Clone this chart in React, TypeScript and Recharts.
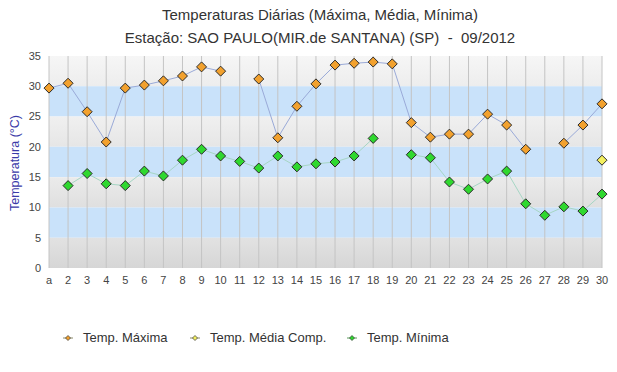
import React from "react";
import {
  ComposedChart,
  Line,
  XAxis,
  YAxis,
  ReferenceArea,
  ReferenceLine,
} from "recharts";

const days = [
  "a", "2", "3", "4", "5", "6", "7", "8", "9", "10",
  "11", "12", "13", "14", "15", "16", "17", "18", "19", "20",
  "21", "22", "23", "24", "25", "26", "27", "28", "29", "30",
];

const tempMax = [
  29.7, 30.5, 25.8, 20.8, 29.7, 30.2, 30.9, 31.7, 33.2, 32.5,
  null, 31.2, 21.5, 26.7, 30.4, 33.5, 33.8, 34.0, 33.7, 24.0,
  21.6, 22.1, 22.1, 25.4, 23.6, 19.6, null, 20.6, 23.6, 27.1,
];

const tempMedia = [
  null, null, null, null, null, null, null, null, null, null,
  null, null, null, null, null, null, null, null, null, null,
  null, null, null, null, null, null, null, null, null, 17.8,
];

const tempMin = [
  null, 13.6, 15.6, 13.9, 13.6, 16.0, 15.2, 17.8, 19.6, 18.5,
  17.6, 16.5, 18.5, 16.7, 17.2, 17.5, 18.5, 21.4, null, 18.7,
  18.2, 14.2, 13.0, 14.7, 16.0, 10.6, 8.7, 10.1, 9.4, 12.2,
];

const yTicks = [0, 5, 10, 15, 20, 25, 30, 35];

// faixas de fundo (cinza / azul alternados)
const bands = [
  { y1: 30, y2: 35, fill: "url(#g1)" },
  { y1: 25, y2: 30, fill: "#c9e2fa" },
  { y1: 20, y2: 25, fill: "url(#g2)" },
  { y1: 15, y2: 20, fill: "#c9e2fa" },
  { y1: 10, y2: 15, fill: "url(#g3)" },
  { y1: 5, y2: 10, fill: "#c9e2fa" },
  { y1: 0, y2: 5, fill: "url(#g4)" },
];

const data = days.map((d, i) => ({
  label: d,
  max: tempMax[i],
  media: tempMedia[i],
  min: tempMin[i],
}));

const FONT = "'Liberation Sans', Arial, sans-serif";

function diamond(fill: string, r: number) {
  return (props: any) => {
    const { cx, cy, value, index } = props;
    if (value == null || cx == null || cy == null) return <g key={index} />;
    return (
      <polygon
        key={index}
        points={`${cx},${cy - r} ${cx + r},${cy} ${cx},${cy + r} ${cx - r},${cy}`}
        fill={fill}
        stroke="#2a2a2a"
        strokeWidth={1}
      />
    );
  };
}

const legendItems = [
  { name: "Temp. Máxima", fill: "#f2a12e", line: "#8a8a6a", left: 62 },
  { name: "Temp. Média Comp.", fill: "#f4f060", line: "#8a8a6a", left: 189 },
  { name: "Temp. Mínima", fill: "#2fd82f", line: "#5a9a5a", left: 346 },
];

export default function App() {
  return (
    <div
      style={{
        position: "absolute",
        left: 0,
        top: 0,
        width: 617,
        height: 372,
        background: "#fff",
        fontFamily: FONT,
      }}
    >
      <div
        style={{
          position: "absolute",
          top: 6,
          left: 0,
          width: 640,
          textAlign: "center",
          fontSize: 15,
          color: "#333",
        }}
      >
        Temperaturas Diárias (Máxima, Média, Mínima)
      </div>
      <div
        style={{
          position: "absolute",
          top: 29,
          left: 0,
          width: 640,
          textAlign: "center",
          fontSize: 15,
          color: "#333",
          whiteSpace: "pre",
        }}
      >
        {"Estação: SAO PAULO(MIR.de SANTANA) (SP)  -  09/2012"}
      </div>
      <div
        style={{
          position: "absolute",
          left: 15,
          top: 163,
          transform: "translate(-50%, -50%) rotate(-90deg)",
          fontSize: 12.5,
          color: "#3a3aa8",
          whiteSpace: "nowrap",
        }}
      >
        Temperatura (°C)
      </div>

      <ComposedChart
        width={617}
        height={372}
        data={data}
        margin={{ top: 56, right: 15, bottom: 74, left: 0 }}
        style={{ position: "absolute", left: 0, top: 0 }}
      >
        <defs>
          <linearGradient id="g1" x1="0" y1="0" x2="0" y2="1">
            <stop offset="0%" stopColor="#f6f6f6" />
            <stop offset="100%" stopColor="#ededed" />
          </linearGradient>
          <linearGradient id="g2" x1="0" y1="0" x2="0" y2="1">
            <stop offset="0%" stopColor="#f0f0f0" />
            <stop offset="100%" stopColor="#e6e6e6" />
          </linearGradient>
          <linearGradient id="g3" x1="0" y1="0" x2="0" y2="1">
            <stop offset="0%" stopColor="#ebebeb" />
            <stop offset="100%" stopColor="#dfdfdf" />
          </linearGradient>
          <linearGradient id="g4" x1="0" y1="0" x2="0" y2="1">
            <stop offset="0%" stopColor="#e2e2e2" />
            <stop offset="100%" stopColor="#d6d6d6" />
          </linearGradient>
        </defs>
        <XAxis
          dataKey="label"
          interval={0}
          tickLine={false}
          axisLine={false}
          tick={{ fontSize: 11, fill: "#444", fontFamily: FONT }}
        />
        <YAxis
          width={49}
          domain={[0, 35]}
          ticks={yTicks}
          tickLine={false}
          axisLine={false}
          tick={{ fontSize: 11, fill: "#444", fontFamily: FONT }}
        />
        {bands.map((b) => (
          <ReferenceArea
            key={b.y1}
            y1={b.y1}
            y2={b.y2}
            fill={b.fill}
            fillOpacity={1}
            stroke="none"
            ifOverflow="visible"
          />
        ))}
        {days.map((d) => (
          <ReferenceLine key={d} x={d} stroke="#c4c4c4" strokeWidth={1} />
        ))}
        <Line
          dataKey="max"
          stroke="#9aaad8"
          strokeWidth={1}
          dot={diamond("#f2a12e", 5)}
          activeDot={false}
          isAnimationActive={false}
        />
        <Line
          dataKey="media"
          stroke="#c8c880"
          strokeWidth={1}
          dot={diamond("#f4f060", 5)}
          activeDot={false}
          isAnimationActive={false}
        />
        <Line
          dataKey="min"
          stroke="#a6d6c4"
          strokeWidth={1}
          dot={diamond("#2fd82f", 5)}
          activeDot={false}
          isAnimationActive={false}
        />
      </ComposedChart>

      {legendItems.map((it) => (
        <div
          key={it.name}
          style={{
            position: "absolute",
            left: it.left,
            top: 330,
            display: "flex",
            alignItems: "center",
            fontSize: 13,
            color: "#333",
            whiteSpace: "nowrap",
          }}
        >
          <svg width={12} height={12} style={{ marginRight: 9 }}>
            <line x1={1} y1={6} x2={11} y2={6} stroke={it.line} strokeWidth={1} />
            <polygon
              points="6,3.5 8.5,6 6,8.5 3.5,6"
              fill={it.fill}
              stroke="#333"
              strokeWidth={0.7}
            />
          </svg>
          <span>{it.name}</span>
        </div>
      ))}
    </div>
  );
}
